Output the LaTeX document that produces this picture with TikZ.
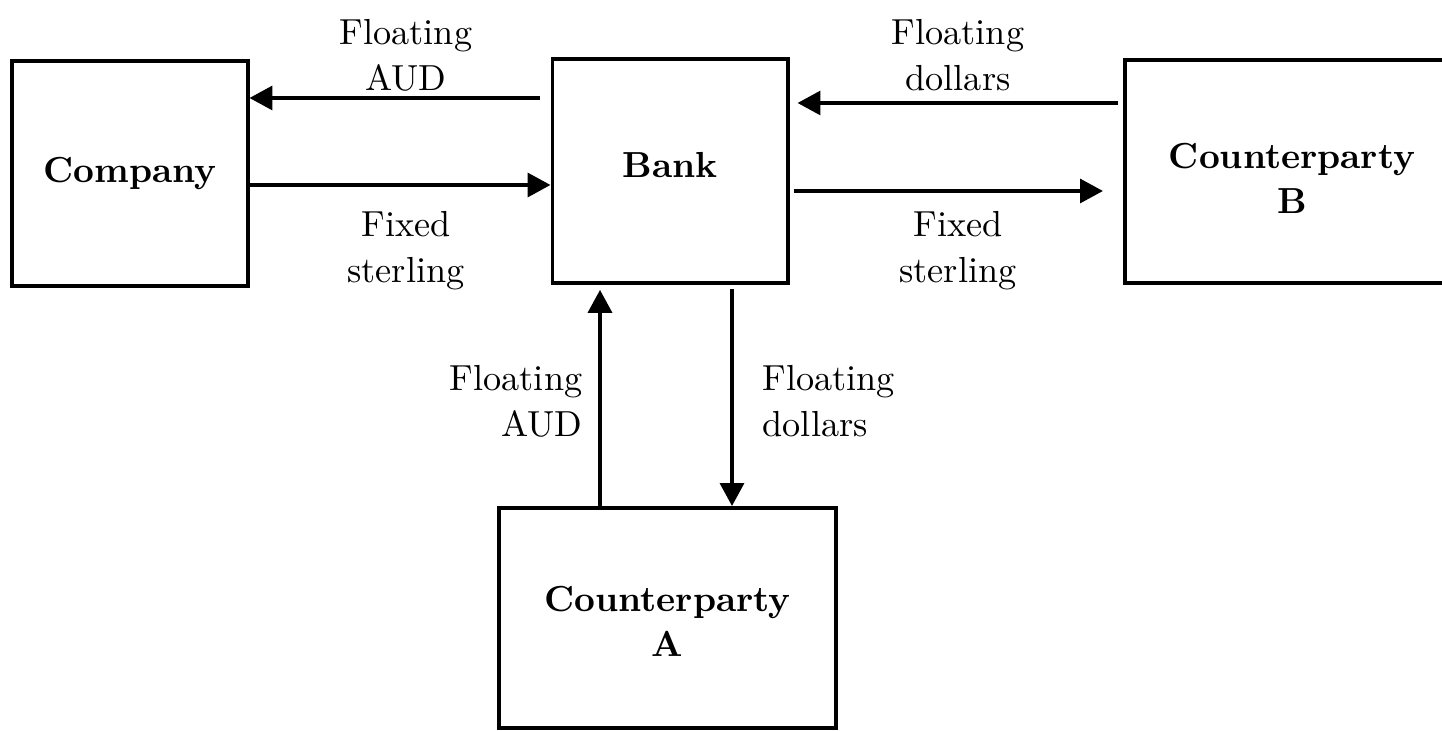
\documentclass[tikz,border=0pt]{standalone}
\usetikzlibrary{arrows.meta}
\begin{document}
\begin{tikzpicture}[x=0.01cm,y=-0.01cm,
  party/.style={draw, line width=1.1pt, inner sep=0pt},
  partyname/.style={font=\fontsize{10.3}{13}\selectfont\bfseries, align=center, inner sep=0pt},
  flow/.style={line width=0.95pt, -{Triangle[length=6.5pt,width=6.8pt]}},
  lbl/.style={font=\fontsize{10.3}{13}\selectfont, align=center, inner sep=0pt}]
\useasboundingbox (0,0) rectangle (1442,731);
\clip (0,0) rectangle (1442,731);

% parties
\node[party, minimum width=2.35cm, minimum height=2.25cm] (company) at (130,173.5) {};
\node[party, minimum width=2.35cm, minimum height=2.24cm] (bank) at (670,171) {};
\node[party, minimum width=3.34cm, minimum height=2.23cm] (cpb) at (1292,171.5) {};
\node[party, minimum width=3.37cm, minimum height=2.20cm] (cpa) at (667.5,618) {};

% party names
\node[partyname] (companyname) at (130,174) {Company};
\node[partyname] (bankname) at (670,165) {Bank};
\node[partyname] (cpbname) at (1292,178.5) {Counterparty\\B};
\node[partyname] (cpaname) at (667.5,621.5) {Counterparty\\A};

% levels of the connectors
\coordinate (yA) at (0,98);
\coordinate (yB) at (0,185);
\coordinate (yC) at (0,103);
\coordinate (yD) at (0,191);
\coordinate (xE) at (600,0);
\coordinate (xF) at (732,0);

% payment flows
\draw[flow, shorten <=3.1pt] (bank.west |- yA) -- (company.east |- yA);
\draw[flow] (company.east |- yB) -- (bank.west |- yB);
\draw[flow, shorten <=1.4pt, shorten >=2.3pt] (cpb.west |- yC) -- (bank.east |- yC);
\draw[flow, shorten <=1.4pt, shorten >=5.7pt] (bank.east |- yD) -- (cpb.west |- yD);
\draw[flow, shorten >=1.4pt] (cpa.north -| xE) -- (bank.south -| xE);
\draw[flow, shorten <=1.1pt] (bank.south -| xF) -- (cpa.north -| xF);

% flow labels
\node[lbl] (l1) at (406,55) {Floating\\AUD};
\node[lbl] (l2) at (406,251) {Fixed\\sterling};
\node[lbl] (l3) at (958,55) {Floating\\dollars};
\node[lbl] (l4) at (958,251) {Fixed\\sterling};
\node[lbl, align=right, anchor=east] (l5) at (583,401) {Floating\\AUD};
\node[lbl, align=left, anchor=west] (l6) at (762,401) {Floating\\dollars};
\end{tikzpicture}
\end{document}
